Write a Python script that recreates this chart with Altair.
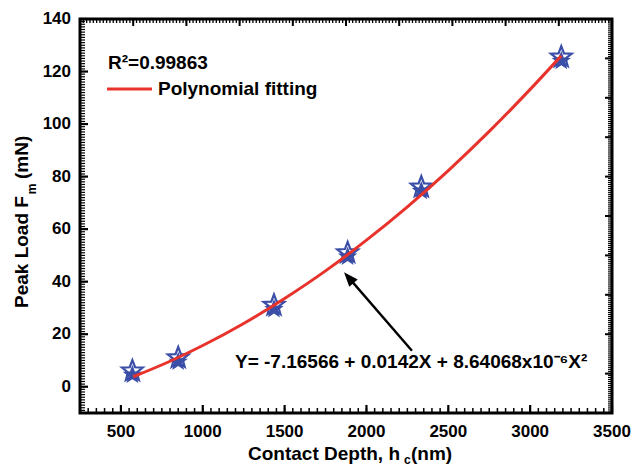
import altair as alt
import pandas as pd
import numpy as np

# ---- data ----
depth = [570, 850, 1435, 1885, 2335, 3190]
load_open = [6.0, 11.0, 31.0, 51.0, 76.0, 125.5]
load_filled = [4.5, 9.5, 29.5, 49.5, 74.5, 124.0]

fit_x = [575, 800, 1000, 1250, 1500, 1750, 2000, 2250, 2500, 2750, 3000, 3190]
fit_y = [3.8, 9.7, 15.7, 24.1, 33.6, 44.1, 55.8, 68.5, 82.3, 97.2, 113.2, 126.0]

x_major = [500, 1000, 1500, 2000, 2500, 3000, 3500]
y_major = [0, 20, 40, 60, 80, 100, 120, 140]

arrow_tail_x = [2278]
arrow_tail_y = [13.7]
arrow_end_x = [1910]
arrow_end_y = [40.2]
arrow_tip_x = [1863]
arrow_tip_y = [43.6]

r2_text = "R²=0.99863"
legend_text = "Polynomial fitting"
eq_text = "Y= -7.16566 + 0.0142X + 8.64068x10⁻⁶X²"

# ---- layout ----
W, H = 532, 394
XDOM = [250, 3500]
YDOM = [-10, 140]
FONT = "Liberation Sans"
BLUE = "#3a4ea8"
RED = "#e8322c"

STAR = ("M0,-1L0.247,-0.34L0.951,-0.309L0.399,0.13L0.588,0.809L0,0.42"
        "L-0.588,0.809L-0.399,0.13L-0.951,-0.309L-0.247,-0.34Z")
HEAD = "M0,0L-0.7,1.8L0.7,1.8Z"

xs = alt.Scale(domain=XDOM, nice=False, zero=False)
ys = alt.Scale(domain=YDOM, nice=False, zero=False)


def X(field):
    return alt.X(field, type="quantitative", scale=xs, axis=None)


def Y(field):
    return alt.Y(field, type="quantitative", scale=ys, axis=None)


pts = pd.DataFrame({"x": depth, "yo": load_open, "yf": load_filled})
fit = pd.DataFrame({"x": fit_x, "y": fit_y})
arrow = pd.DataFrame({"x": arrow_tail_x, "y": arrow_tail_y,
                      "x2": arrow_end_x, "y2": arrow_end_y,
                      "hx": arrow_tip_x, "hy": arrow_tip_y})
one = pd.DataFrame({"a": [0]})
xlab = pd.DataFrame({"v": x_major, "lab": [str(v) for v in x_major]})
ylab = pd.DataFrame({"v": y_major, "lab": [str(v) for v in y_major]})

# ---- frame ticks: positions along the axes ----
x_minor_bottom = [int(v) for v in np.arange(250, 3501, 50)]
x_top_major = [int(v) for v in np.arange(250, 3501, 325)]
x_top_minor = [float(v) for v in np.linspace(250, 3500, 161)]
y_minor_left = [int(v) for v in np.arange(-10, 141, 1)]
y_right_major = [int(v) for v in np.arange(-10, 141, 15)]
y_right_minor = [float(v) for v in np.linspace(-10, 140, 201)]


def ticks(values, side, length, width):
    df = pd.DataFrame({"v": values})
    m = alt.Chart(df).mark_rule(color="black", strokeWidth=width)
    if side == "bottom":
        return m.encode(x=X("v"), y=alt.value(H), y2=alt.value(H - length))
    if side == "top":
        return m.encode(x=X("v"), y=alt.value(0), y2=alt.value(length))
    if side == "left":
        return m.encode(y=Y("v"), x=alt.value(0), x2=alt.value(length))
    return m.encode(y=Y("v"), x=alt.value(W), x2=alt.value(W - length))


tick_layers = [
    ticks(x_minor_bottom, "bottom", 5, 1.5),
    ticks(x_major, "bottom", 8, 2.2),
    ticks(x_top_minor, "top", 4, 1.3),
    ticks(x_top_major, "top", 7, 2),
    ticks(y_minor_left, "left", 5, 1.2),
    ticks(y_major, "left", 8, 2.2),
    ticks(y_right_minor, "right", 4, 1.1),
    ticks(y_right_major, "right", 7, 2),
]

# tick labels placed through the scales
x_labels = alt.Chart(xlab).mark_text(
    font=FONT, fontWeight="bold", fontSize=17, color="black",
    align="center", baseline="top"
).encode(x=X("v"), y=alt.value(H + 11), text="lab:N")

y_labels = alt.Chart(ylab).mark_text(
    font=FONT, fontWeight="bold", fontSize=17, color="black",
    align="right", baseline="middle"
).encode(y=Y("v"), x=alt.value(-9), text="lab:N")

open_star = alt.Chart(pts).mark_point(
    shape=STAR, size=480, filled=False, stroke=BLUE, strokeWidth=2.2,
    fill="white", fillOpacity=1, opacity=1
).encode(x=X("x"), y=Y("yo"))

filled_star = alt.Chart(pts).mark_point(
    shape=STAR, size=410, filled=True, color=BLUE, opacity=1
).encode(x=X("x"), y=Y("yf"))

curve = alt.Chart(fit).mark_line(
    color=RED, strokeWidth=3, interpolate="monotone"
).encode(x=X("x"), y=Y("y"))

arrow_line = alt.Chart(arrow).mark_rule(color="black", strokeWidth=2.4).encode(
    x=X("x"), y=Y("y"), x2="x2:Q", y2="y2:Q")

arrow_head = alt.Chart(arrow).mark_point(
    shape=HEAD, size=256, filled=True, color="black", opacity=1, angle=319
).encode(x=X("hx"), y=Y("hy"))


def txt(s, x, y, size=19, align="left", baseline="middle", angle=0):
    return alt.Chart(one).mark_text(
        text=s, font=FONT, fontWeight="bold", fontSize=size, color="black",
        align=align, baseline=baseline, angle=angle
    ).encode(x=alt.value(x), y=alt.value(y))


legend_line = alt.Chart(one).mark_rule(color=RED, strokeWidth=3).encode(
    x=alt.value(27), x2=alt.value(72), y=alt.value(70))

texts = [
    txt(r2_text, 28, 44),
    txt(legend_text, 78, 70),
    txt(eq_text, 155, 343),
    # x title with subscript
    txt("Contact Depth, h", 168, 441, baseline="alphabetic"),
    txt("c", 324, 445, size=12, baseline="alphabetic"),
    txt("(nm)", 331, 441, baseline="alphabetic"),
    # y title with subscript
    txt("Peak Load F", -58, 289, angle=270),
    txt("m", -48, 170, size=12, align="center", angle=270),
    txt("(mN)", -58, 160, angle=270),
]

chart = alt.layer(
    *tick_layers, open_star, filled_star, curve, arrow_line, arrow_head,
    legend_line, x_labels, y_labels, *texts
).properties(
    width=W, height=H,
    autosize=alt.AutoSizeParams(type="none"),
    padding={"left": 72, "top": 11, "right": 20, "bottom": 54},
).configure_view(
    stroke="black", strokeWidth=3
)

chart.save("out.html", embed_options={"renderer": "svg", "actions": False})
